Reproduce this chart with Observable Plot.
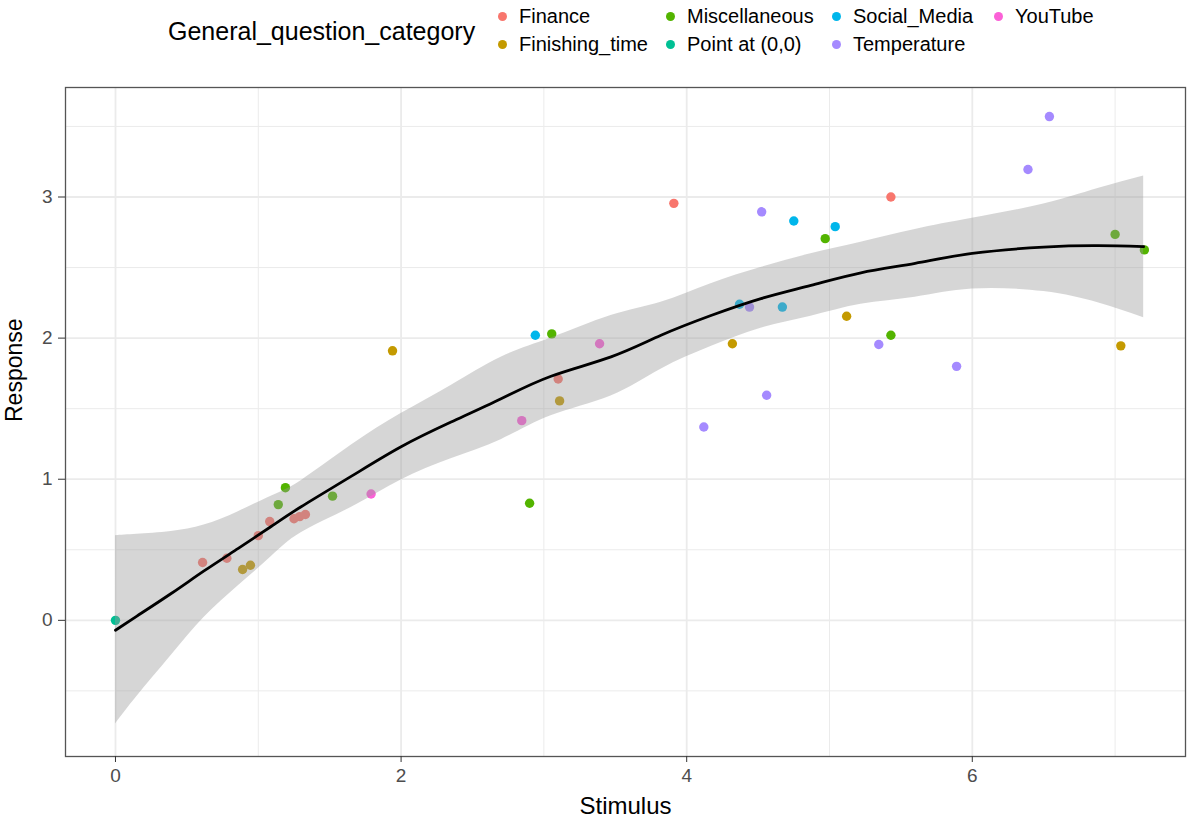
<!DOCTYPE html>
<html>
<head>
<meta charset="utf-8">
<script src="https://cdn.jsdelivr.net/npm/d3@7"></script>
<script src="https://cdn.jsdelivr.net/npm/@observablehq/plot@0.6"></script>
<style>
  body { margin: 0; background: #fff; font-family: "Liberation Sans", Arial, Helvetica, sans-serif; }
  #legend { position: relative; width: 1200px; height: 70px; }
  #legend .title { position: absolute; left: 168px; top: 16px; font-size: 25px; line-height: 30px; color: #000; }
  #legend .items { position: absolute; left: 498px; top: 2px; display: grid; grid-auto-flow: column;
    grid-template-rows: 28px 28px; grid-template-columns: 168px 166px 162px auto; }
  #legend .item { display: flex; align-items: center; font-size: 20px; color: #000; white-space: nowrap; }
  #legend .dot { width: 9px; height: 9px; border-radius: 50%; margin-right: 12px; }
</style>
</head>
<body>
<div id="legend"></div>
<div id="chart"></div>
<script>
// ---- data ----
const categories = ["Finance", "Finishing_time", "Miscellaneous", "Point at (0,0)", "Social_Media", "Temperature", "YouTube"];
const categoryColors = ["#F8766D", "#C49A00", "#53B400", "#00C094", "#00B6EB", "#A58AFF", "#FB61D7"];

const pointCategory = [
  "Finance","Finance","Finance","Finance","Finance","Finance","Finance","Finance","Finance","Finance",
  "Finishing_time","Finishing_time","Finishing_time","Finishing_time","Finishing_time","Finishing_time","Finishing_time",
  "Miscellaneous","Miscellaneous","Miscellaneous","Miscellaneous","Miscellaneous","Miscellaneous","Miscellaneous","Miscellaneous","Miscellaneous",
  "Point at (0,0)",
  "Social_Media","Social_Media","Social_Media","Social_Media","Social_Media",
  "Temperature","Temperature","Temperature","Temperature","Temperature","Temperature","Temperature","Temperature",
  "YouTube","YouTube","YouTube"
];
const pointStimulus = [
  0.61, 0.78, 1.00, 1.08, 1.25, 1.29, 1.33, 3.10, 3.91, 5.43,
  0.89, 0.945, 1.94, 3.11, 4.32, 5.12, 7.04,
  1.14, 1.19, 1.52, 2.90, 3.055, 4.97, 5.43, 7.00, 7.205,
  0.00,
  2.94, 4.37, 4.67, 4.75, 5.04,
  4.12, 4.44, 4.525, 4.56, 5.345, 5.89, 6.39, 6.54,
  1.79, 2.845, 3.39
];
const pointResponse = [
  0.41, 0.44, 0.60, 0.70, 0.72, 0.735, 0.75, 1.71, 2.955, 3.00,
  0.36, 0.39, 1.91, 1.555, 1.96, 2.155, 1.945,
  0.82, 0.94, 0.88, 0.83, 2.03, 2.705, 2.02, 2.735, 2.625,
  0.00,
  2.02, 2.24, 2.22, 2.83, 2.79,
  1.37, 2.22, 2.895, 1.595, 1.955, 1.80, 3.195, 3.57,
  0.895, 1.415, 1.96
];

// loess smooth
const smoothX     = [0, 0.15, 0.39, 0.62, 0.86, 1.09, 1.3, 1.65, 2.0, 2.35, 2.7, 3.05, 3.47, 3.82, 4.17, 4.52, 4.87, 5.22, 5.6, 6.0, 6.5, 6.88, 7.2];
const smoothFit   = [-0.07, 0.03, 0.19, 0.35, 0.51, 0.665, 0.805, 1.02, 1.23, 1.405, 1.57, 1.73, 1.867, 2.02, 2.16, 2.28, 2.374, 2.463, 2.53, 2.60, 2.645, 2.655, 2.648];
const smoothUpper = [0.60, 0.61, 0.63, 0.675, 0.77, 0.88, 0.99, 1.24, 1.465, 1.665, 1.865, 2.0, 2.16, 2.255, 2.386, 2.50, 2.598, 2.68, 2.77, 2.849, 2.95, 3.06, 3.149];
const smoothLower = [-0.735, -0.54, -0.25, 0.02, 0.245, 0.45, 0.62, 0.80, 0.995, 1.145, 1.28, 1.45, 1.59, 1.78, 1.94, 2.07, 2.155, 2.24, 2.29, 2.348, 2.33, 2.25, 2.145];

const xTicks = [0, 2, 4, 6];
const xMinor = [1, 3, 5, 7];
const yTicks = [0, 1, 2, 3];
const yMinor = [-0.5, 0.5, 1.5, 2.5, 3.5];

// ---- build tables ----
const points = pointStimulus.map((s, i) => ({stimulus: s, response: pointResponse[i], category: pointCategory[i]}));
const smooth = smoothX.map((x, i) => ({x, fit: smoothFit[i], lower: smoothLower[i], upper: smoothUpper[i]}));

// ---- legend ----
const legend = document.getElementById("legend");
const t = document.createElement("div");
t.className = "title";
t.textContent = "General_question_category";
legend.appendChild(t);
const items = document.createElement("div");
items.className = "items";
categories.forEach((c, i) => {
  const it = document.createElement("div");
  it.className = "item";
  const d = document.createElement("span");
  d.className = "dot";
  d.style.background = categoryColors[i];
  const s = document.createElement("span");
  s.textContent = c;
  it.appendChild(d); it.appendChild(s);
  items.appendChild(it);
});
legend.appendChild(items);

// ---- chart ----
const gridColor = "#EBEBEB";
const fmt = d => String(d);
const chart = Plot.plot({
  width: 1200,
  height: 750,
  marginLeft: 65,
  marginRight: 15,
  marginTop: 17,
  marginBottom: 64,
  style: {fontFamily: "'Liberation Sans', Arial, Helvetica, sans-serif", background: "#fff", overflow: "visible"},
  x: {domain: [-0.35, 7.493]},
  y: {domain: [-0.965, 3.776]},
  color: {domain: categories, range: categoryColors},
  marks: [
    Plot.gridX(xMinor, {stroke: gridColor, strokeOpacity: 1, strokeWidth: 1}),
    Plot.gridY(yMinor, {stroke: gridColor, strokeOpacity: 1, strokeWidth: 1}),
    Plot.gridX(xTicks, {stroke: gridColor, strokeOpacity: 1, strokeWidth: 1.8}),
    Plot.gridY(yTicks, {stroke: gridColor, strokeOpacity: 1, strokeWidth: 1.8}),
    Plot.dot(points, {x: "stimulus", y: "response", fill: "category", r: 4.7}),
    Plot.areaY(smooth, {x: "x", y1: "lower", y2: "upper", fill: "#999999", fillOpacity: 0.4, curve: "natural"}),
    Plot.line(smooth, {x: "x", y: "fit", stroke: "#000", strokeWidth: 2.8, curve: "natural"}),
    Plot.frame({stroke: "#555", strokeWidth: 1.3}),
    Plot.axisX(xTicks, {tickSize: 6, tickPadding: 6, fontSize: 19, stroke: "#333", fill: "#4D4D4D", label: null, tickFormat: fmt}),
    Plot.axisY(yTicks, {tickSize: 7, tickPadding: 6, fontSize: 19, stroke: "#333", fill: "#4D4D4D", label: null, tickFormat: fmt}),
    Plot.text(["Stimulus"], {frameAnchor: "bottom", lineAnchor: "bottom", dy: 57, fontSize: 24, fill: "#000"}),
    Plot.text(["Response"], {frameAnchor: "left", lineAnchor: "bottom", rotate: -90, dx: -44, fontSize: 23, fill: "#000"})
  ]
});
document.getElementById("chart").appendChild(chart);
</script>
</body>
</html>
